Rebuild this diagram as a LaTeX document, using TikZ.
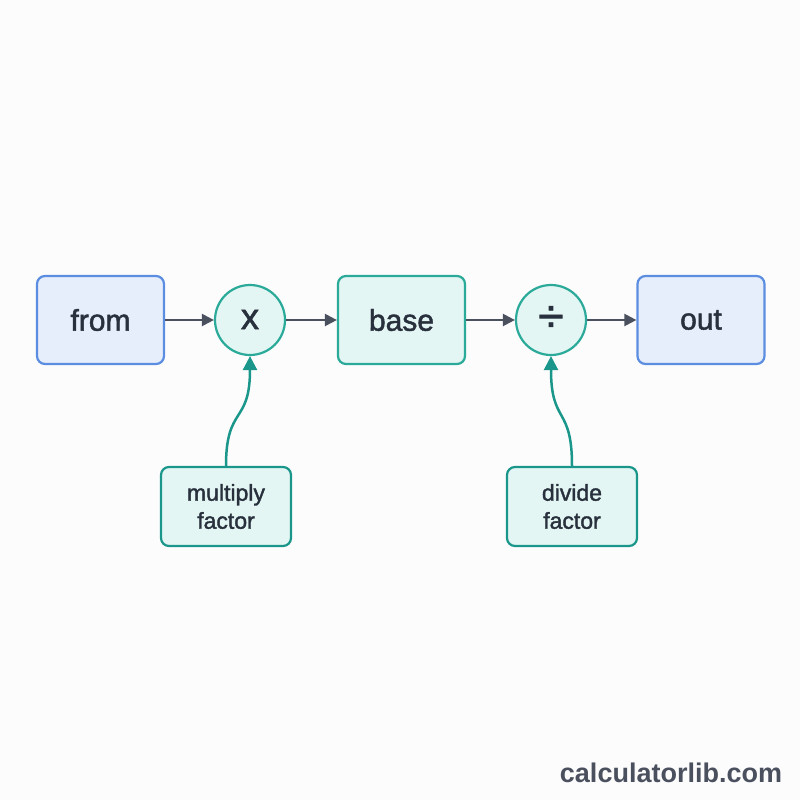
\documentclass[tikz,border=0pt]{standalone}
\usepackage{fontspec}
\setmainfont{Liberation Sans}
\newfontfamily\medfont[FakeBold=1.6]{Liberation Sans}
\usetikzlibrary{arrows.meta}
\definecolor{bluefill}{HTML}{E6EEFC}
\definecolor{blueline}{HTML}{5B8DE0}
\definecolor{tealfill}{HTML}{E4F6F3}
\definecolor{tealline}{HTML}{2BAA9A}
\definecolor{tealarrow}{HTML}{1A978A}
\definecolor{grayarrow}{HTML}{4A505E}
\definecolor{textcol}{HTML}{27303C}
\definecolor{bgcol}{HTML}{FCFCFD}
\tikzset{
  bluebox/.style={draw=blueline, fill=bluefill, line width=2.2pt, rounded corners=8pt,
    minimum width=127pt, minimum height=88pt, text=textcol, font=\medfont\fontsize{30}{32}\selectfont},
  tealbox/.style={draw=tealline, fill=tealfill, line width=2.2pt, rounded corners=8pt,
    minimum width=127pt, minimum height=88pt, text=textcol, font=\medfont\fontsize{30}{32}\selectfont},
  opcircle/.style={circle, draw=tealline, fill=tealfill, line width=2.2pt,
    minimum size=70pt, inner sep=0pt, text=textcol},
  factorbox/.style={draw=tealarrow, fill=tealfill, line width=2.2pt, rounded corners=8pt,
    minimum width=130pt, minimum height=79pt, text=textcol, align=center,
    font=\medfont\fontsize{23}{28}\selectfont},
  flow/.style={draw=grayarrow, line width=2.2pt, -{Triangle[length=12pt,width=12pt]}},
  feed/.style={draw=tealarrow, line width=2.5pt, -{Triangle[length=14pt,width=14pt]}},
}
\begin{document}
\begin{tikzpicture}[x=1pt,y=-1pt]
\fill[bgcol] (0,0) rectangle (800,800);
\useasboundingbox (0,0) rectangle (800,800);
\node[bluebox] (from) at (100.5,320) {from};
\node[opcircle, font=\medfont\fontsize{36}{36}\selectfont] (mul) at (250,320) {\raisebox{1pt}{x}};
\node[tealbox] (base) at (401.5,320) {base};
\node[opcircle, font=\medfont\fontsize{46}{46}\selectfont] (div) at (551,320) {\raisebox{2pt}{÷}};
\node[bluebox] (out) at (701,320) {out};
\node[factorbox] (mf) at (226,506.5) {multiply\\factor};
\node[factorbox] (df) at (572,506.5) {divide\\factor};
\draw[flow] (from) -- (mul);
\draw[flow] (mul) -- (base);
\draw[flow] (base) -- (div);
\draw[flow] (div) -- (out);
\draw[feed] (mf.north) .. controls (226,405) and (250,425) .. (mul.south);
\draw[feed] (df.north) .. controls (572,405) and (551,425) .. (div.south);
\node[text=grayarrow, font=\bfseries\fontsize{27}{30}\selectfont] (wm) at (671,773) {calculatorlib.com};
\end{tikzpicture}
\end{document}
